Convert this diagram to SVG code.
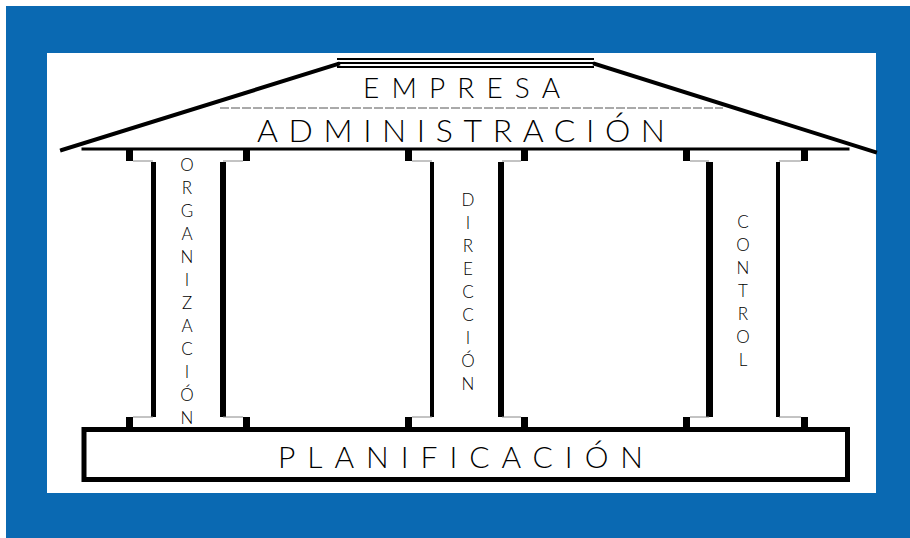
<svg xmlns="http://www.w3.org/2000/svg" width="910" height="538" viewBox="0 0 910 538">
<style>
.ln{stroke:#000;fill:none;stroke-linecap:square}
.t{font-family:Lato,"Liberation Sans",sans-serif;font-weight:300;fill:#000}
.v{font-family:Lato,"Liberation Sans",sans-serif;font-weight:300;font-size:17px;fill:#000;text-anchor:middle}
</style>
<rect x="0" y="0" width="910" height="538" fill="#fff"/>
<rect x="6" y="6" width="904" height="532" fill="#0A69B2"/>
<rect x="47" y="53" width="829" height="440" fill="#fff"/>
<g id="roof">
<path class="ln" d="M62 150 L338 64" stroke-width="4"/>
<path class="ln" d="M595 64 L875 152" stroke-width="4"/>
<line class="ln" x1="338" y1="59" x2="593" y2="59" stroke-width="2"/>
<line class="ln" x1="338" y1="63" x2="593" y2="63" stroke-width="2"/>
<line class="ln" x1="338" y1="67" x2="593" y2="67" stroke-width="2"/>
<line x1="220" y1="108" x2="723" y2="108" stroke="#555" stroke-width="1" stroke-dasharray="9 2"/>
<line class="ln" x1="83" y1="149" x2="848" y2="149" stroke-width="3" stroke-linecap="butt"/>
<text class="t" x="363" y="98" font-size="28" textLength="197" lengthAdjust="spacing">EMPRESA</text>
<text class="t" x="257" y="142" font-size="32" textLength="408" lengthAdjust="spacing">ADMINISTRACIÓN</text>
</g>
<g id="col-organizacion">
<rect x="126" y="149" width="7" height="12"/>
<rect x="243" y="149" width="7" height="12"/>
<line x1="133" y1="161" x2="153" y2="161" stroke="#888" stroke-width="1"/>
<line x1="223" y1="161" x2="243" y2="161" stroke="#888" stroke-width="1"/>
<rect x="151" y="162" width="5" height="255"/>
<rect x="220" y="162" width="6" height="255"/>
<line x1="133" y1="417" x2="153" y2="417" stroke="#888" stroke-width="1"/>
<line x1="223" y1="417" x2="243" y2="417" stroke="#888" stroke-width="1"/>
<rect x="126" y="417" width="7" height="12"/>
<rect x="243" y="417" width="7" height="12"/>
<g class="v">
<text x="187" y="171">O</text><text x="187" y="194">R</text><text x="187" y="217">G</text><text x="187" y="240">A</text><text x="187" y="263">N</text><text x="187" y="286">I</text><text x="187" y="309">Z</text><text x="187" y="332">A</text><text x="187" y="355">C</text><text x="187" y="378">I</text><text x="187" y="401">Ó</text><text x="187" y="424">N</text>
</g>
</g>
<g id="col-direccion">
<rect x="405" y="149" width="7" height="12"/>
<rect x="521" y="149" width="7" height="12"/>
<line x1="412" y1="161" x2="432" y2="161" stroke="#888" stroke-width="1"/>
<line x1="502" y1="161" x2="521" y2="161" stroke="#888" stroke-width="1"/>
<rect x="430" y="162" width="4" height="255"/>
<rect x="498" y="162" width="6" height="255"/>
<line x1="412" y1="417" x2="432" y2="417" stroke="#888" stroke-width="1"/>
<line x1="502" y1="417" x2="521" y2="417" stroke="#888" stroke-width="1"/>
<rect x="405" y="417" width="7" height="12"/>
<rect x="521" y="417" width="7" height="12"/>
<g class="v">
<text x="468" y="206">D</text><text x="468" y="229">I</text><text x="468" y="252">R</text><text x="468" y="275">E</text><text x="468" y="298">C</text><text x="468" y="321">C</text><text x="468" y="344">I</text><text x="468" y="367">Ó</text><text x="468" y="390">N</text>
</g>
</g>
<g id="col-control">
<rect x="683" y="149" width="7" height="12"/>
<rect x="801" y="149" width="7" height="12"/>
<line x1="690" y1="161" x2="709" y2="161" stroke="#888" stroke-width="1"/>
<line x1="779" y1="161" x2="801" y2="161" stroke="#888" stroke-width="1"/>
<rect x="706" y="162" width="7" height="255"/>
<rect x="776" y="162" width="4" height="255"/>
<line x1="690" y1="417" x2="709" y2="417" stroke="#888" stroke-width="1"/>
<line x1="779" y1="417" x2="801" y2="417" stroke="#888" stroke-width="1"/>
<rect x="683" y="417" width="7" height="12"/>
<rect x="801" y="417" width="7" height="12"/>
<g class="v">
<text x="743" y="228">C</text><text x="743" y="251">O</text><text x="743" y="274">N</text><text x="743" y="297">T</text><text x="743" y="320">R</text><text x="743" y="343">O</text><text x="743" y="366">L</text>
</g>
</g>
<g id="base">
<rect x="84" y="429.5" width="763.5" height="50" fill="none" stroke="#000" stroke-width="5"/>
<text class="t" x="278" y="468" font-size="30" textLength="365" lengthAdjust="spacing">PLANIFICACIÓN</text>
</g>
</svg>
